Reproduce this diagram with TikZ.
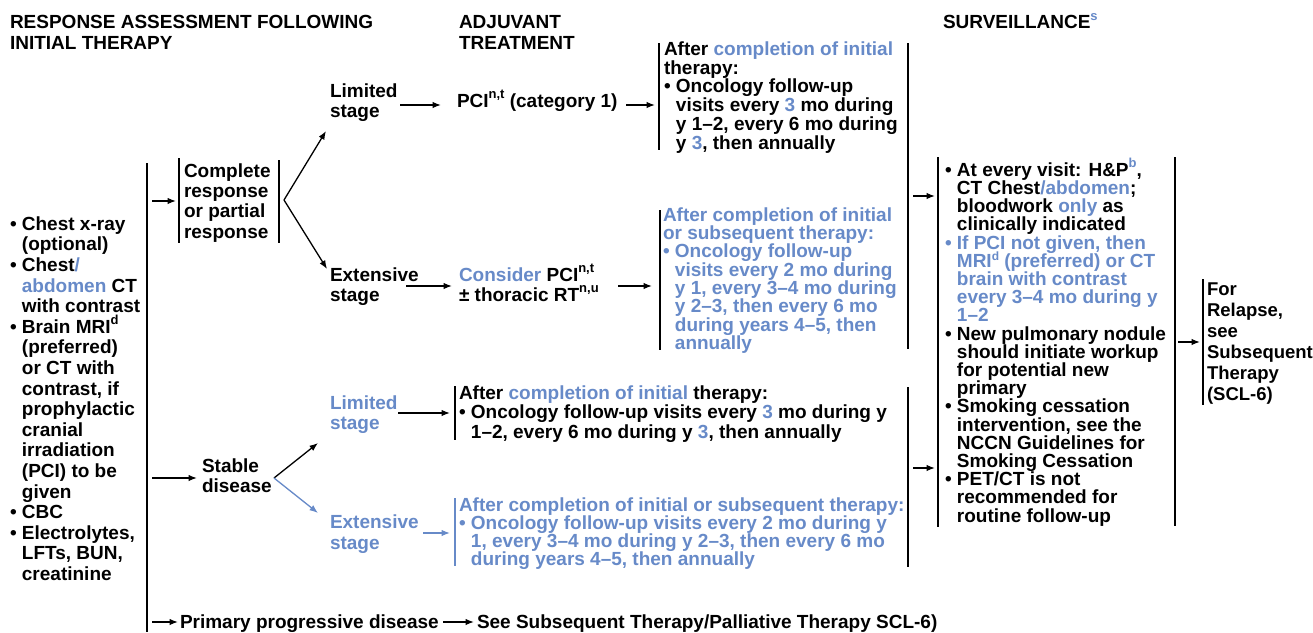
\documentclass[tikz,border=0pt]{standalone}
\usepackage{fontspec}
\setmainfont{Liberation Sans}
\usetikzlibrary{arrows.meta}
\definecolor{nb}{RGB}{103,138,200}
\newcommand\spx[1]{\smash{\raisebox{0.45em}{\fontsize{13}{13}\selectfont #1}}}
\newcommand\spy[1]{\smash{\raisebox{0.36em}{\fontsize{12}{12}\selectfont #1}}}
\newcommand\bl[1]{\textcolor{nb}{#1}}
\newcommand\ind{\phantom{• }}
\begin{document}
\begin{tikzpicture}[x=1pt,y=-1pt,
  tx/.style={font=\fontsize{19}{#1}\selectfont\bfseries, inner sep=0pt, outer sep=0pt, anchor=north west, align=left},
  tx/.default=20.5,
  bar/.style={line width=1.3pt},
  arr/.style={line width=1.3pt,-{Latex[length=8.5pt,width=6.5pt]}}]
\useasboundingbox (0,0) rectangle (1313,632);
% headers
\node[tx=21] (h1) at (10,15.5) {RESPONSE ASSESSMENT FOLLOWING\\INITIAL THERAPY};
\node[tx=21] (h2) at (459,15.5) {ADJUVANT\\TREATMENT};
\node[tx] (h3) at (943,15.5) {SURVEILLANCE\spx{\bl{s}}};
% left column
\node[tx=20.6] (pre) at (10,216.6) {• Chest x-ray\\\ind(optional)\\• Chest\bl{/}\\\ind\bl{abdomen} CT\\\ind with contrast\\• Brain MRI\spx{d}\\\ind(preferred)\\\ind or CT with\\\ind contrast, if\\\ind prophylactic\\\ind cranial\\\ind irradiation\\\ind(PCI) to be\\\ind given\\• CBC\\• Electrolytes,\\\ind LFTs, BUN,\\\ind creatinine};
\draw[bar] (147,163) -- (147,632);
% complete response branch
\node[tx=20.3] (cr) at (184,163.6) {Complete\\response\\or partial\\response};
\draw[bar] (179,158) -- (179,243);
\draw[bar] (279,160) -- (279,243);
\node[tx=20.5] (lim1) at (330,83.6) {Limited\\stage};
\node[tx=20] (ext1) at (330,267.6) {Extensive\\stage};
\node[tx] (pci1) at (457,93.6) {PCI\spx{n,t} (category 1)};
\node[tx=20] (pci2) at (459,267.6) {\bl{Consider} PCI\spx{n,t}\\± thoracic RT\spx{n,u}};
\node[tx=18.8] (fu1) at (664,41.6) {After \bl{completion of initial}\\therapy:\\• Oncology follow-up\\\ind visits every \bl{3} mo during\\\ind y 1–2, every 6 mo during\\\ind y \bl{3}, then annually};
\node[tx=18.3, text=nb] (fu2) at (663,207.6) {After completion of initial\\or subsequent therapy:\\• Oncology follow-up\\\ind visits every 2 mo during\\\ind y 1, every 3–4 mo during\\\ind y 2–3, then every 6 mo\\\ind during years 4–5, then\\\ind annually};
\draw[bar] (659,43) -- (659,150);
\draw[bar] (660,210) -- (660,350);
\draw[bar] (908,43) -- (908,349);
% stable disease branch
\node[tx=20.5] (sd) at (202,458.6) {Stable\\disease};
\node[tx=20, text=nb] (lim2) at (330,395.6) {Limited\\stage};
\node[tx=21, text=nb] (ext2) at (330,514.6) {Extensive\\stage};
\node[tx=19.5] (fu3) at (459,385.6) {After \bl{completion of initial} therapy:\\• Oncology follow-up visits every \bl{3} mo during y\\\ind 1–2, every 6 mo during y \bl{3}, then annually};
\node[tx=18, text=nb] (fu4) at (459,497.6) {After completion of initial or subsequent therapy:\\• Oncology follow-up visits every 2 mo during y\\\ind 1, every 3–4 mo during y 2–3, then every 6 mo\\\ind during years 4–5, then annually};
\draw[bar] (455,386) -- (455,440);
\draw[bar, draw=nb] (455,498) -- (455,566);
\draw[bar] (908,387) -- (908,567);
% surveillance
\node[tx=18.2] (surv) at (945,162.6) {• At every visit: H\&P\spx{\bl{b}},\\\ind CT Chest\bl{/abdomen};\\\ind bloodwork \bl{only} as\\\ind clinically indicated\\\bl{• If PCI not given, then}\\\ind\bl{MRI\spy{d} (preferred) or CT}\\\ind\bl{brain with contrast}\\\ind\bl{every 3–4 mo during y}\\\ind\bl{1–2}\\• New pulmonary nodule\\\ind should initiate workup\\\ind for potential new\\\ind primary\\• Smoking cessation\\\ind intervention, see the\\\ind NCCN Guidelines for\\\ind Smoking Cessation\\• PET/CT is not\\\ind recommended for\\\ind routine follow-up};
\draw[bar] (938,157) -- (938,527);
\draw[bar] (1175,157) -- (1175,526);
\node[tx=21, font=\fontsize{18.5}{21}\selectfont\bfseries] (rel) at (1207,282.6) {For\\Relapse,\\see\\Subsequent\\Therapy\\(SCL-6)};
\draw[bar] (1203,279) -- (1203,405);
% bottom
\node[tx] (ppd) at (180,614.6) {Primary progressive disease};
\node[tx] (see) at (477,614.6) {See Subsequent Therapy/Palliative Therapy SCL-6)};
% arrow endpoints
\coordinate (a1s) at (152,201); \coordinate (a1e) at (176,201);
\coordinate (brs) at (284,200); \coordinate (bru) at (326,131); \coordinate (brd) at (327,269);
\coordinate (a2s) at (400,105); \coordinate (a2e) at (441,105);
\coordinate (a3s) at (406,286); \coordinate (a3e) at (452,286);
\coordinate (a4s) at (626,105); \coordinate (a4e) at (655,105);
\coordinate (a5s) at (618,286); \coordinate (a5e) at (652,286);
\coordinate (a6s) at (913,196); \coordinate (a6e) at (935,196);
\coordinate (a7s) at (913,468); \coordinate (a7e) at (935,468);
\coordinate (a8s) at (1178,342); \coordinate (a8e) at (1200,342);
\coordinate (a9s) at (152,478); \coordinate (a9e) at (197,478);
\coordinate (bss) at (274,478); \coordinate (bsu) at (318,443); \coordinate (bsd) at (318,513);
\coordinate (b1s) at (398,413); \coordinate (b1e) at (450,413);
\coordinate (b2s) at (423,533); \coordinate (b2e) at (450,533);
\coordinate (c1s) at (152,622); \coordinate (c1e) at (178,622);
\coordinate (c2s) at (443,622); \coordinate (c2e) at (474,622);
\draw[arr] (a1s) -- (a1e);
\draw[arr] (brs) -- (bru);
\draw[arr] (brs) -- (brd);
\draw[arr] (a2s) -- (a2e);
\draw[arr] (a3s) -- (a3e);
\draw[arr] (a4s) -- (a4e);
\draw[arr] (a5s) -- (a5e);
\draw[arr] (a6s) -- (a6e);
\draw[arr] (a7s) -- (a7e);
\draw[arr] (a8s) -- (a8e);
\draw[arr] (a9s) -- (a9e);
\draw[arr] (bss) -- (bsu);
\draw[arr, draw=nb, fill=nb] (bss) -- (bsd);
\draw[arr] (b1s) -- (b1e);
\draw[arr, draw=nb, fill=nb] (b2s) -- (b2e);
\draw[arr] (c1s) -- (c1e);
\draw[arr] (c2s) -- (c2e);
\end{tikzpicture}
\end{document}
